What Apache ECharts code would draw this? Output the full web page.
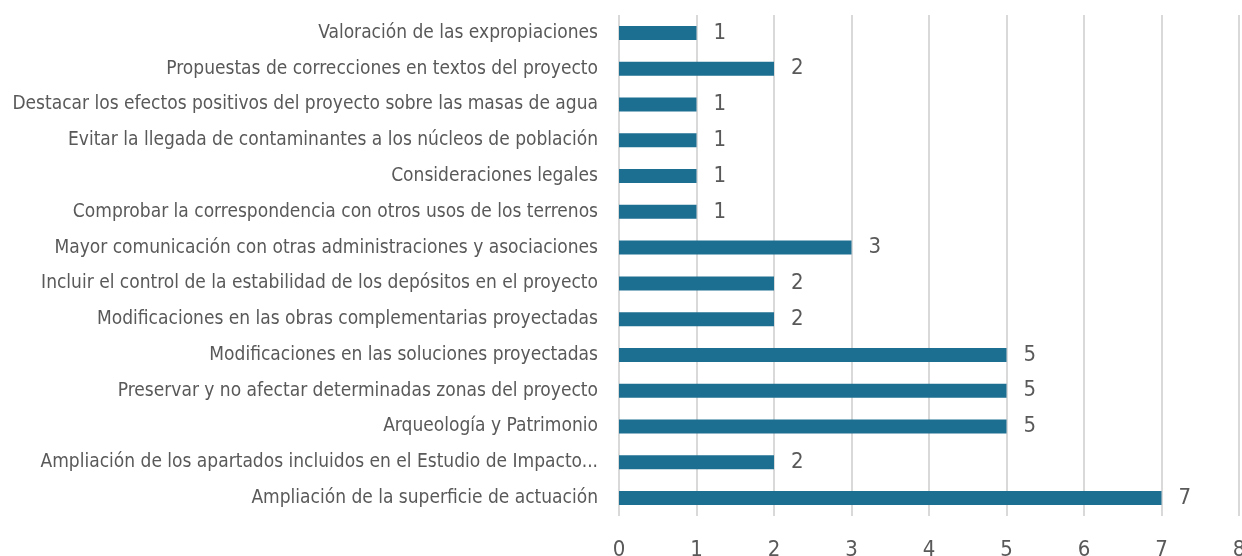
<!DOCTYPE html>
<html>
<head>
<meta charset="utf-8">
<script src="https://cdn.jsdelivr.net/npm/echarts@6/dist/echarts.min.js"></script>
<style>
  html, body { margin: 0; padding: 0; background: #ffffff; }
  #chart { width: 1242px; height: 556px; }
</style>
</head>
<body>
<div id="chart"></div>
<script>
// Categories listed bottom to top (ECharts category axis starts at the bottom)
const categories = [
  'Ampliación de la superficie de actuación',
  'Ampliación de los apartados incluidos en el Estudio de Impacto...',
  'Arqueología y Patrimonio',
  'Preservar y no afectar determinadas zonas del proyecto',
  'Modificaciones en las soluciones proyectadas',
  'Modificaciones en las obras complementarias proyectadas',
  'Incluir el control de la estabilidad de los depósitos en el proyecto',
  'Mayor comunicación con otras administraciones y asociaciones',
  'Comprobar la correspondencia con otros usos de los terrenos',
  'Consideraciones legales',
  'Evitar la llegada de contaminantes a los núcleos de población',
  'Destacar los efectos positivos del proyecto sobre las masas de agua',
  'Propuestas de correcciones en textos del proyecto',
  'Valoración de las expropiaciones'
];
const counts = [7, 2, 5, 5, 5, 2, 2, 3, 1, 1, 1, 1, 2, 1];
const xTicks = [0, 1, 2, 3, 4, 5, 6, 7, 8];

const FONT = "'Liberation Sans Narrow', 'DejaVu Sans Condensed', 'Liberation Sans', sans-serif";
const TEXT = '#595959';

const chart = echarts.init(document.getElementById('chart'));
chart.setOption({
  animation: false,
  grid: {
    left: 619, right: 3, top: 15, bottom: 40,
    containLabel: false,
    outerBoundsMode: 'none'
  },
  xAxis: {
    type: 'value',
    min: xTicks[0],
    max: xTicks[xTicks.length - 1],
    interval: 1,
    axisLine: { show: false },
    axisTick: { show: false },
    splitLine: { show: true, lineStyle: { color: '#d9d9d9', width: 2 } },
    axisLabel: { color: TEXT, fontFamily: FONT, fontSize: 22, margin: 23 }
  },
  yAxis: {
    type: 'category',
    data: categories,
    axisLine: { show: false },
    axisTick: { show: false },
    splitLine: { show: false },
    axisLabel: { color: TEXT, fontFamily: FONT, fontSize: 19, margin: 21 }
  },
  series: [{
    type: 'bar',
    data: counts,
    barWidth: 14,
    itemStyle: { color: '#1c6f91' },
    label: {
      show: true,
      position: 'right',
      distance: 17,
      color: TEXT,
      fontFamily: FONT,
      fontSize: 22
    }
  }]
});
</script>
</body>
</html>
